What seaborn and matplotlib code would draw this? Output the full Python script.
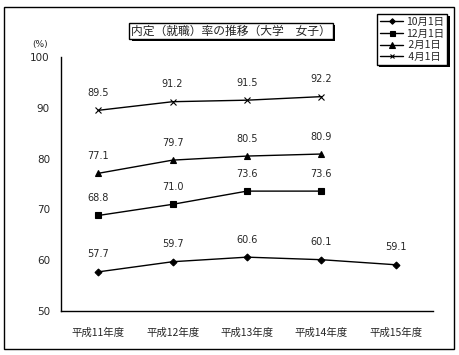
import numpy as np
import pandas as pd
import matplotlib
matplotlib.use("Agg")
import matplotlib.pyplot as plt
import matplotlib.patheffects as pe
from matplotlib.patches import Rectangle
from matplotlib.lines import Line2D
import seaborn as sns

# データ
years = ["平成11年度", "平成12年度", "平成13年度", "平成14年度", "平成15年度"]
oct_1 = [57.7, 59.7, 60.6, 60.1, 59.1]
dec_1 = [68.8, 71.0, 73.6, 73.6, np.nan]
feb_1 = [77.1, 79.7, 80.5, 80.9, np.nan]
apr_1 = [89.5, 91.2, 91.5, 92.2, np.nan]
series_names = ["10月1日", "12月1日", " 2月1日", " 4月1日"]
y_ticks = [50, 60, 70, 80, 90, 100]

sns.set_style("white")
plt.rcParams["font.family"] = ["Noto Sans CJK JP", "DejaVu Sans"]

W, H = 459, 355
fig = plt.figure(figsize=(W / 100, H / 100), dpi=100)
ax = fig.add_axes([61 / W, 1 - 311 / H, (433 - 61) / W, (311 - 57) / H])

markers = ["D", "s", "^", "x"]
msizes = [3.5, 4.5, 5, 4]
x_pos = np.arange(len(years))
for name, vals, mk, ms in zip(series_names, [oct_1, dec_1, feb_1, apr_1], markers, msizes):
    df = pd.DataFrame({"x": x_pos, "y": vals}).dropna()
    sns.lineplot(data=df, x="x", y="y", ax=ax, color="black", linewidth=1,
                 marker=mk, markersize=ms, markeredgecolor="black",
                 markeredgewidth=0.8, label=None, legend=False)
    for xi, yi in zip(df["x"], df["y"]):
        ax.annotate(f"{yi:.1f}", (xi, yi), xytext=(0, 9), textcoords="offset points",
                    ha="center", va="bottom", fontsize=7, family="DejaVu Sans")

ax.set_xlim(-0.5, len(years) - 0.5)
ax.set_ylim(50, 100)
ax.set_yticks(y_ticks)
ax.set_yticklabels([str(t) for t in y_ticks], fontsize=7.5, family="DejaVu Sans")
ax.set_xticks(x_pos)
ax.set_xticklabels(years, fontsize=7.5)
ax.set_xticks(np.arange(-0.5, len(years)), minor=True)
ax.tick_params(axis="x", which="major", length=0, pad=12)
ax.tick_params(axis="x", which="minor", direction="in", length=2.5, width=0.8)
ax.tick_params(axis="y", direction="in", length=2.5, width=0.8, pad=8)
ax.set_xlabel("")
ax.set_ylabel("")
for s in ["top", "right"]:
    ax.spines[s].set_visible(False)
for s in ["left", "bottom"]:
    ax.spines[s].set_color("black")
    ax.spines[s].set_linewidth(1)

fig.text(40 / W, 1 - 44 / H, "(%)", fontsize=6.5, ha="center", va="center", family="DejaVu Sans")

# 外枠
fig.patches.append(Rectangle((4 / W, 1 - 349 / H), 450 / W, 342 / H, transform=fig.transFigure,
                             fill=False, edgecolor="black", linewidth=1))

# タイトル
title = fig.text(231 / W, 1 - 31 / H, "内定（就職）率の推移（大学　女子）", fontsize=8.5,
                 ha="center", va="center",
                 bbox=dict(boxstyle="square,pad=0.15", facecolor="white", edgecolor="black", linewidth=1))
title.get_bbox_patch().set_path_effects([
    pe.SimplePatchShadow(offset=(1.6, -1.6), shadow_rgbFace="black", alpha=1), pe.Normal()])

# 凡例
handles = [Line2D([], [], color="black", linewidth=1, marker=mk, markersize=ms * 0.8,
                  markeredgewidth=0.8) for mk, ms in zip(markers, msizes)]
leg = fig.legend(handles, series_names, loc="upper left",
                 bbox_to_anchor=(377 / W, 1 - 14 / H), fontsize=7.5, frameon=True,
                 fancybox=False, framealpha=1, handlelength=2.2, handletextpad=0.3,
                 labelspacing=0.15, borderpad=0.3, borderaxespad=0)
leg.get_frame().set_edgecolor("black")
leg.get_frame().set_facecolor("white")
leg.get_frame().set_linewidth(1)
leg.get_frame().set_path_effects([
    pe.SimplePatchShadow(offset=(1.6, -1.6), shadow_rgbFace="black", alpha=1), pe.Normal()])

fig.savefig("out.png", dpi=100, facecolor="white")
